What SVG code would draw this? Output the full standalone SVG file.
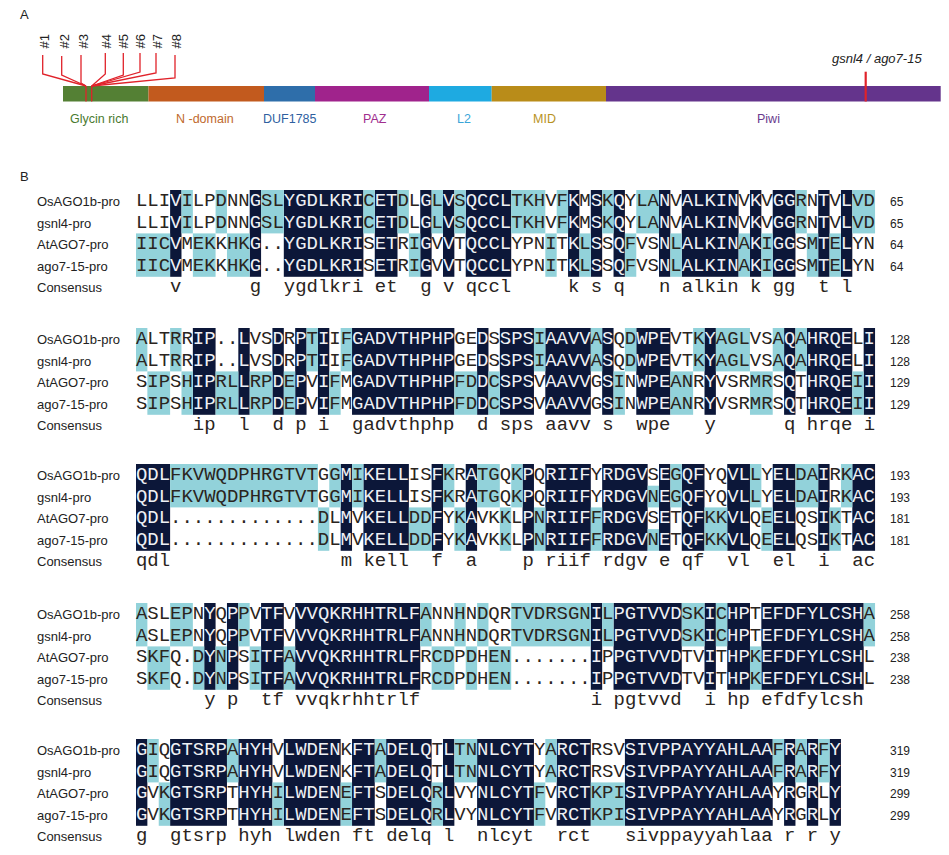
<svg xmlns="http://www.w3.org/2000/svg" width="949" height="855" viewBox="0 0 949 855">
<style>
.t{font-family:"Liberation Sans",Arial,sans-serif;font-size:13px;fill:#222}
.n{font-family:"Liberation Sans",Arial,sans-serif;font-size:12px;fill:#222}
.d{font-family:"Liberation Sans",Arial,sans-serif;font-size:12.5px}
.s{font-family:"Liberation Mono","Courier New",monospace;font-size:18.95px;fill:#2a2420}
.w{fill:#eef0f4}
.k{fill:#0c1739}
.c{fill:#92d2da}
.r{stroke:#e0222a;stroke-width:1.3;fill:none}
</style>
<rect width="949" height="855" fill="#fff"/>
<g id="panelA">
<text class="t" x="20" y="19">A</text>
<g id="domains">
<rect x="63" y="86" width="85.5" height="15.5" fill="#548034"/>
<rect x="148.5" y="86" width="115.5" height="15.5" fill="#c25a1e"/>
<rect x="264" y="86" width="51" height="15.5" fill="#2e6eaa"/>
<rect x="315" y="86" width="114" height="15.5" fill="#a0238c"/>
<rect x="429" y="86" width="62.7" height="15.5" fill="#1eaae1"/>
<rect x="491.7" y="86" width="114.3" height="15.5" fill="#b98c19"/>
<rect x="606" y="86" width="334.7" height="15.5" fill="#64348c"/>
</g>
<g id="domain-labels" class="d">
<text x="70" y="122.5" fill="#4a7a30">Glycin rich</text>
<text x="176" y="122.5" fill="#c0692d">N -domain</text>
<text x="263" y="122.5" fill="#2f5f9f">DUF1785</text>
<text x="363" y="122.5" fill="#a02e8e">PAZ</text>
<text x="457" y="122.5" fill="#3aa5d8">L2</text>
<text x="533" y="122.5" fill="#b8921e">MID</text>
<text x="757" y="122.5" fill="#6a3a8e">Piwi</text>
</g>
<g id="sites" class="t">
<text transform="translate(49.3,48.5) rotate(-90)">#1</text>
<text transform="translate(69.3,48.5) rotate(-90)">#2</text>
<text transform="translate(87.6,48.5) rotate(-90)">#3</text>
<text transform="translate(110.6,48.5) rotate(-90)">#4</text>
<text transform="translate(127.6,48.5) rotate(-90)">#5</text>
<text transform="translate(144.6,48.5) rotate(-90)">#6</text>
<text transform="translate(161.6,48.5) rotate(-90)">#7</text>
<text transform="translate(181.3,48.5) rotate(-90)">#8</text>
</g>
<g id="site-lines" class="r">
<polyline points="42.7,55 42.7,74 86,86"/>
<polyline points="61.7,56 61.7,75 86,86"/>
<polyline points="81,55 81,83 86,86"/>
<polyline points="105.3,53 105.3,74 91.7,86"/>
<polyline points="123.3,53 123.3,75 91.7,86"/>
<polyline points="140,53 140,72 91.7,86"/>
<polyline points="156,53 156,73 91.7,86"/>
<polyline points="175,55 175,78 91.7,86"/>
<line x1="86" y1="86" x2="86" y2="101.5"/>
<line x1="91.7" y1="86" x2="91.7" y2="101.5"/>
</g>
<g id="mutation">
<line x1="865.7" y1="71.7" x2="865.7" y2="101.5" stroke="#e0222a" stroke-width="2.2"/>
<text x="832" y="62.5" class="t" font-style="italic">gsnl4 / ago7-15</text>
</g>
</g>
<text class="t" x="20" y="181">B</text>

<g id="block1">
<g transform="translate(136,190) scale(11.37,1)">
<g class="k"><rect x="3" width="1" height="86.8"/><rect x="10" width="1" height="86.8"/><rect x="13" width="7" height="86.8"/><rect x="21" width="2" height="86.8"/><rect x="25" width="1" height="86.8"/><rect x="27" width="1" height="86.8"/><rect x="29" width="4" height="86.8"/><rect x="38" width="1" height="86.8"/><rect x="40" width="1" height="86.8"/><rect x="42" width="1" height="86.8"/><rect x="46" width="1" height="86.8"/><rect x="48" width="5" height="86.8"/><rect x="54" width="1" height="86.8"/><rect x="56" width="2" height="86.8"/><rect x="60" width="1" height="86.8"/><rect x="62" width="1" height="86.8"/></g>
<g class="c"><rect x="4" width="1" height="43.4"/><rect x="7" width="1" height="43.4"/><rect x="11" width="2" height="43.4"/><rect x="20" width="1" height="43.4"/><rect x="23" width="1" height="43.4"/><rect x="26" width="1" height="43.4"/><rect x="28" width="1" height="43.4"/><rect x="33" width="3" height="43.4"/><rect x="37" width="1" height="43.4"/><rect x="41" width="1" height="43.4"/><rect x="44" width="2" height="43.4"/><rect x="58" width="1" height="43.4"/><rect x="63" width="2" height="43.4"/>
<rect x="0" y="43.4" width="3" height="43.4"/><rect x="5" y="43.4" width="2" height="43.4"/><rect x="8" y="43.4" width="2" height="43.4"/><rect x="24" y="43.4" width="1" height="43.4"/><rect x="36" y="43.4" width="1" height="43.4"/><rect x="39" y="43.4" width="1" height="43.4"/><rect x="43" y="43.4" width="1" height="43.4"/><rect x="47" y="43.4" width="1" height="43.4"/><rect x="53" y="43.4" width="1" height="43.4"/><rect x="55" y="43.4" width="1" height="43.4"/><rect x="59" y="43.4" width="1" height="43.4"/><rect x="61" y="43.4" width="1" height="43.4"/></g>
</g>
<g class="t"><text x="37" y="205.8">OsAGO1b-pro</text><text x="37" y="227.5">gsnl4-pro</text><text x="37" y="249.2">AtAGO7-pro</text><text x="37" y="270.9">ago7-15-pro</text><text x="37" y="291.5">Consensus</text></g>
<g class="n"><text x="890" y="205.8">65</text><text x="890" y="227.5">65</text><text x="890" y="249.2">64</text><text x="890" y="270.9">64</text></g>
<g class="s">
<text x="136" y="205.8">LLI<tspan class="w">V</tspan>ILPDNN<tspan class="w">G</tspan>SL<tspan class="w">YGDLKRI</tspan>C<tspan class="w">ET</tspan>DL<tspan class="w">G</tspan>L<tspan class="w">V</tspan>S<tspan class="w">QCCL</tspan>TKHVF<tspan class="w">K</tspan>M<tspan class="w">S</tspan>K<tspan class="w">Q</tspan>YLA<tspan class="w">N</tspan>V<tspan class="w">ALKIN</tspan>V<tspan class="w">K</tspan>V<tspan class="w">GG</tspan>RN<tspan class="w">T</tspan>V<tspan class="w">L</tspan>VD</text>
<text x="136" y="227.5">LLI<tspan class="w">V</tspan>ILPDNN<tspan class="w">G</tspan>SL<tspan class="w">YGDLKRI</tspan>C<tspan class="w">ET</tspan>DL<tspan class="w">G</tspan>L<tspan class="w">V</tspan>S<tspan class="w">QCCL</tspan>TKHVF<tspan class="w">K</tspan>M<tspan class="w">S</tspan>K<tspan class="w">Q</tspan>YLA<tspan class="w">N</tspan>V<tspan class="w">ALKIN</tspan>V<tspan class="w">K</tspan>V<tspan class="w">GG</tspan>RN<tspan class="w">T</tspan>V<tspan class="w">L</tspan>VD</text>
<text x="136" y="249.2">IIC<tspan class="w">V</tspan>MEKKHK<tspan class="w">G</tspan>..<tspan class="w">YGDLKRI</tspan>S<tspan class="w">ET</tspan>RI<tspan class="w">G</tspan>V<tspan class="w">V</tspan>T<tspan class="w">QCCL</tspan>YPNIT<tspan class="w">K</tspan>L<tspan class="w">S</tspan>S<tspan class="w">Q</tspan>FVS<tspan class="w">N</tspan>L<tspan class="w">ALKIN</tspan>A<tspan class="w">K</tspan>I<tspan class="w">GG</tspan>SM<tspan class="w">T</tspan>E<tspan class="w">L</tspan>YN</text>
<text x="136" y="270.9">IIC<tspan class="w">V</tspan>MEKKHK<tspan class="w">G</tspan>..<tspan class="w">YGDLKRI</tspan>S<tspan class="w">ET</tspan>RI<tspan class="w">G</tspan>V<tspan class="w">V</tspan>T<tspan class="w">QCCL</tspan>YPNIT<tspan class="w">K</tspan>L<tspan class="w">S</tspan>S<tspan class="w">Q</tspan>FVS<tspan class="w">N</tspan>L<tspan class="w">ALKIN</tspan>A<tspan class="w">K</tspan>I<tspan class="w">GG</tspan>SM<tspan class="w">T</tspan>E<tspan class="w">L</tspan>YN</text>
<text y="291.5"><tspan x="170.11">v</tspan><tspan x="249.70">g</tspan><tspan x="283.81">ygdlkri</tspan><tspan x="374.77">et</tspan><tspan x="420.25">g</tspan><tspan x="442.99">v</tspan><tspan x="465.73">qccl</tspan><tspan x="568.06">k</tspan><tspan x="590.80">s</tspan><tspan x="613.54">q</tspan><tspan x="659.02">n</tspan><tspan x="681.76">alkin</tspan><tspan x="749.98">k</tspan><tspan x="772.72">gg</tspan><tspan x="818.20">t</tspan><tspan x="840.94">l</tspan></text>
</g>
</g>

<g id="block2">
<g transform="translate(136,328) scale(11.37,1)">
<g class="k"><rect x="5" width="2" height="86.8"/><rect x="9" width="1" height="86.8"/><rect x="12" width="1" height="86.8"/><rect x="14" width="1" height="86.8"/><rect x="16" width="1" height="86.8"/><rect x="19" width="9" height="86.8"/><rect x="30" width="1" height="86.8"/><rect x="32" width="3" height="86.8"/><rect x="36" width="4" height="86.8"/><rect x="41" width="1" height="86.8"/><rect x="44" width="3" height="86.8"/><rect x="50" width="1" height="86.8"/><rect x="57" width="1" height="86.8"/><rect x="59" width="4" height="86.8"/><rect x="64" width="1" height="86.8"/></g>
<g class="c"><rect x="0" width="1" height="43.4"/><rect x="3" width="1" height="43.4"/><rect x="15" width="1" height="43.4"/><rect x="18" width="1" height="43.4"/><rect x="35" width="1" height="43.4"/><rect x="40" width="1" height="43.4"/><rect x="43" width="1" height="43.4"/><rect x="49" width="1" height="43.4"/><rect x="51" width="3" height="43.4"/><rect x="56" width="1" height="43.4"/><rect x="58" width="1" height="43.4"/>
<rect x="1" y="43.4" width="2" height="43.4"/><rect x="4" y="43.4" width="1" height="43.4"/><rect x="7" y="43.4" width="2" height="43.4"/><rect x="10" y="43.4" width="2" height="43.4"/><rect x="13" y="43.4" width="1" height="43.4"/><rect x="17" y="43.4" width="1" height="43.4"/><rect x="28" y="43.4" width="2" height="43.4"/><rect x="31" y="43.4" width="1" height="43.4"/><rect x="42" y="43.4" width="1" height="43.4"/><rect x="47" y="43.4" width="2" height="43.4"/><rect x="54" y="43.4" width="2" height="43.4"/><rect x="63" y="43.4" width="1" height="43.4"/></g>
</g>
<g class="t"><text x="37" y="343.8">OsAGO1b-pro</text><text x="37" y="365.5">gsnl4-pro</text><text x="37" y="387.2">AtAGO7-pro</text><text x="37" y="408.9">ago7-15-pro</text><text x="37" y="429.5">Consensus</text></g>
<g class="n"><text x="890" y="343.8">128</text><text x="890" y="365.5">128</text><text x="890" y="387.2">129</text><text x="890" y="408.9">129</text></g>
<g class="s">
<text x="136" y="343.8">ALTRR<tspan class="w">IP</tspan>..<tspan class="w">L</tspan>VS<tspan class="w">D</tspan>R<tspan class="w">P</tspan>T<tspan class="w">I</tspan>IF<tspan class="w">GADVTHPHP</tspan>GE<tspan class="w">D</tspan>S<tspan class="w">SPS</tspan>I<tspan class="w">AAVV</tspan>A<tspan class="w">S</tspan>QD<tspan class="w">WPE</tspan>VTK<tspan class="w">Y</tspan>AGLVSA<tspan class="w">Q</tspan>A<tspan class="w">HRQE</tspan>L<tspan class="w">I</tspan></text>
<text x="136" y="365.5">ALTRR<tspan class="w">IP</tspan>..<tspan class="w">L</tspan>VS<tspan class="w">D</tspan>R<tspan class="w">P</tspan>T<tspan class="w">I</tspan>IF<tspan class="w">GADVTHPHP</tspan>GE<tspan class="w">D</tspan>S<tspan class="w">SPS</tspan>I<tspan class="w">AAVV</tspan>A<tspan class="w">S</tspan>QD<tspan class="w">WPE</tspan>VTK<tspan class="w">Y</tspan>AGLVSA<tspan class="w">Q</tspan>A<tspan class="w">HRQE</tspan>L<tspan class="w">I</tspan></text>
<text x="136" y="387.2">SIPSH<tspan class="w">IP</tspan>RL<tspan class="w">L</tspan>RP<tspan class="w">D</tspan>E<tspan class="w">P</tspan>V<tspan class="w">I</tspan>FM<tspan class="w">GADVTHPHP</tspan>FD<tspan class="w">D</tspan>C<tspan class="w">SPS</tspan>V<tspan class="w">AAVV</tspan>G<tspan class="w">S</tspan>IN<tspan class="w">WPE</tspan>ANR<tspan class="w">Y</tspan>VSRMRS<tspan class="w">Q</tspan>T<tspan class="w">HRQE</tspan>I<tspan class="w">I</tspan></text>
<text x="136" y="408.9">SIPSH<tspan class="w">IP</tspan>RL<tspan class="w">L</tspan>RP<tspan class="w">D</tspan>E<tspan class="w">P</tspan>V<tspan class="w">I</tspan>FM<tspan class="w">GADVTHPHP</tspan>FD<tspan class="w">D</tspan>C<tspan class="w">SPS</tspan>V<tspan class="w">AAVV</tspan>G<tspan class="w">S</tspan>IN<tspan class="w">WPE</tspan>ANR<tspan class="w">Y</tspan>VSRMRS<tspan class="w">Q</tspan>T<tspan class="w">HRQE</tspan>I<tspan class="w">I</tspan></text>
<text y="429.5"><tspan x="192.85">ip</tspan><tspan x="238.33">l</tspan><tspan x="272.44">d</tspan><tspan x="295.18">p</tspan><tspan x="317.92">i</tspan><tspan x="352.03">gadvthphp</tspan><tspan x="477.10">d</tspan><tspan x="499.84">sps</tspan><tspan x="545.32">aavv</tspan><tspan x="602.17">s</tspan><tspan x="636.28">wpe</tspan><tspan x="704.50">y</tspan><tspan x="784.09">q</tspan><tspan x="806.83">hrqe</tspan><tspan x="863.68">i</tspan></text>
</g>
</g>

<g id="block3">
<g transform="translate(136,464) scale(11.37,1)">
<g class="k"><rect x="0" width="3" height="86.8"/><rect x="18" width="1" height="86.8"/><rect x="20" width="4" height="86.8"/><rect x="26" width="1" height="86.8"/><rect x="29" width="1" height="86.8"/><rect x="34" width="1" height="86.8"/><rect x="36" width="4" height="86.8"/><rect x="41" width="4" height="86.8"/><rect x="46" width="1" height="86.8"/><rect x="48" width="2" height="86.8"/><rect x="52" width="2" height="86.8"/><rect x="56" width="2" height="86.8"/><rect x="60" width="1" height="86.8"/><rect x="63" width="2" height="86.8"/></g>
<g class="c"><rect x="3" width="13" height="43.4"/><rect x="17" width="1" height="43.4"/><rect x="19" width="1" height="43.4"/><rect x="27" width="1" height="43.4"/><rect x="30" width="2" height="43.4"/><rect x="33" width="1" height="43.4"/><rect x="47" width="1" height="43.4"/><rect x="54" width="1" height="43.4"/><rect x="58" width="2" height="43.4"/><rect x="62" width="1" height="43.4"/>
<rect x="16" y="43.4" width="1" height="43.4"/><rect x="24" y="43.4" width="2" height="43.4"/><rect x="28" y="43.4" width="1" height="43.4"/><rect x="32" y="43.4" width="1" height="43.4"/><rect x="35" y="43.4" width="1" height="43.4"/><rect x="40" y="43.4" width="1" height="43.4"/><rect x="50" y="43.4" width="2" height="43.4"/><rect x="55" y="43.4" width="1" height="43.4"/><rect x="61" y="43.4" width="1" height="43.4"/>
<rect x="45" y="21.7" width="1" height="21.7"/><rect x="45" y="65.1" width="1" height="21.7"/></g>
</g>
<g class="t"><text x="37" y="479.8">OsAGO1b-pro</text><text x="37" y="501.5">gsnl4-pro</text><text x="37" y="523.2">AtAGO7-pro</text><text x="37" y="544.9">ago7-15-pro</text><text x="37" y="565.5">Consensus</text></g>
<g class="n"><text x="890" y="479.8">193</text><text x="890" y="501.5">193</text><text x="890" y="523.2">181</text><text x="890" y="544.9">181</text></g>
<g class="s">
<text x="136" y="479.8"><tspan class="w">QDL</tspan>FKVWQDPHRGTVTGG<tspan class="w">M</tspan>I<tspan class="w">KELL</tspan>IS<tspan class="w">F</tspan>KR<tspan class="w">A</tspan>TGQK<tspan class="w">P</tspan>Q<tspan class="w">RIIF</tspan>Y<tspan class="w">RDGV</tspan>S<tspan class="w">E</tspan>G<tspan class="w">QF</tspan>YQ<tspan class="w">VL</tspan>LY<tspan class="w">EL</tspan>DA<tspan class="w">I</tspan>RK<tspan class="w">AC</tspan></text>
<text x="136" y="501.5"><tspan class="w">QDL</tspan>FKVWQDPHRGTVTGG<tspan class="w">M</tspan>I<tspan class="w">KELL</tspan>IS<tspan class="w">F</tspan>KR<tspan class="w">A</tspan>TGQK<tspan class="w">P</tspan>Q<tspan class="w">RIIF</tspan>Y<tspan class="w">RDGV</tspan>N<tspan class="w">E</tspan>G<tspan class="w">QF</tspan>YQ<tspan class="w">VL</tspan>LY<tspan class="w">EL</tspan>DA<tspan class="w">I</tspan>RK<tspan class="w">AC</tspan></text>
<text x="136" y="523.2"><tspan class="w">QDL</tspan>.............DL<tspan class="w">M</tspan>V<tspan class="w">KELL</tspan>DD<tspan class="w">F</tspan>YK<tspan class="w">A</tspan>VKKL<tspan class="w">P</tspan>N<tspan class="w">RIIF</tspan>F<tspan class="w">RDGV</tspan>S<tspan class="w">E</tspan>T<tspan class="w">QF</tspan>KK<tspan class="w">VL</tspan>QE<tspan class="w">EL</tspan>QS<tspan class="w">I</tspan>KT<tspan class="w">AC</tspan></text>
<text x="136" y="544.9"><tspan class="w">QDL</tspan>.............DL<tspan class="w">M</tspan>V<tspan class="w">KELL</tspan>DD<tspan class="w">F</tspan>YK<tspan class="w">A</tspan>VKKL<tspan class="w">P</tspan>N<tspan class="w">RIIF</tspan>F<tspan class="w">RDGV</tspan>N<tspan class="w">E</tspan>T<tspan class="w">QF</tspan>KK<tspan class="w">VL</tspan>QE<tspan class="w">EL</tspan>QS<tspan class="w">I</tspan>KT<tspan class="w">AC</tspan></text>
<text y="565.5"><tspan x="136">qdl</tspan><tspan x="340.66">m</tspan><tspan x="363.40">kell</tspan><tspan x="431.62">f</tspan><tspan x="465.73">a</tspan><tspan x="522.58">p</tspan><tspan x="545.32">riif</tspan><tspan x="602.17">rdgv</tspan><tspan x="659.02">e</tspan><tspan x="681.76">qf</tspan><tspan x="727.24">vl</tspan><tspan x="772.72">el</tspan><tspan x="818.20">i</tspan><tspan x="852.31">ac</tspan></text>
</g>
</g>

<g id="block4">
<g transform="translate(136,603) scale(11.37,1)">
<g class="k"><rect x="6" width="1" height="86.8"/><rect x="8" width="1" height="86.8"/><rect x="11" width="2" height="86.8"/><rect x="14" width="11" height="86.8"/><rect x="40" width="1" height="86.8"/><rect x="42" width="6" height="86.8"/><rect x="50" width="1" height="86.8"/><rect x="52" width="2" height="86.8"/><rect x="55" width="9" height="86.8"/></g>
<g class="c"><rect x="0" width="1" height="43.4"/><rect x="3" width="2" height="43.4"/><rect x="9" width="1" height="43.4"/><rect x="25" width="1" height="43.4"/><rect x="28" width="1" height="43.4"/><rect x="30" width="1" height="43.4"/><rect x="33" width="7" height="43.4"/><rect x="41" width="1" height="43.4"/><rect x="48" width="2" height="43.4"/><rect x="51" width="1" height="43.4"/><rect x="64" width="1" height="43.4"/>
<rect x="1" y="43.4" width="2" height="43.4"/><rect x="5" y="43.4" width="1" height="43.4"/><rect x="7" y="43.4" width="1" height="43.4"/><rect x="10" y="43.4" width="1" height="43.4"/><rect x="13" y="43.4" width="1" height="43.4"/><rect x="26" y="43.4" width="2" height="43.4"/><rect x="29" y="43.4" width="1" height="43.4"/><rect x="31" y="43.4" width="2" height="43.4"/><rect x="54" y="43.4" width="1" height="43.4"/></g>
</g>
<g class="t"><text x="37" y="618.8">OsAGO1b-pro</text><text x="37" y="640.5">gsnl4-pro</text><text x="37" y="662.2">AtAGO7-pro</text><text x="37" y="683.9">ago7-15-pro</text><text x="37" y="704.5">Consensus</text></g>
<g class="n"><text x="890" y="618.8">258</text><text x="890" y="640.5">258</text><text x="890" y="662.2">238</text><text x="890" y="683.9">238</text></g>
<g class="s">
<text x="136" y="618.8">ASLEPN<tspan class="w">Y</tspan>Q<tspan class="w">P</tspan>PV<tspan class="w">TF</tspan>V<tspan class="w">VVQKRHHTRLF</tspan>ANNHNDQRTVDRSGN<tspan class="w">I</tspan>L<tspan class="w">PGTVVD</tspan>SK<tspan class="w">I</tspan>C<tspan class="w">HP</tspan>T<tspan class="w">EFDFYLCSH</tspan>A</text>
<text x="136" y="640.5">ASLEPN<tspan class="w">Y</tspan>Q<tspan class="w">P</tspan>PV<tspan class="w">TF</tspan>V<tspan class="w">VVQKRHHTRLF</tspan>ANNHNDQRTVDRSGN<tspan class="w">I</tspan>L<tspan class="w">PGTVVD</tspan>SK<tspan class="w">I</tspan>C<tspan class="w">HP</tspan>T<tspan class="w">EFDFYLCSH</tspan>A</text>
<text x="136" y="662.2">SKFQ.D<tspan class="w">Y</tspan>N<tspan class="w">P</tspan>SI<tspan class="w">TF</tspan>A<tspan class="w">VVQKRHHTRLF</tspan>RCDPDHEN.......<tspan class="w">I</tspan>P<tspan class="w">PGTVVD</tspan>TV<tspan class="w">I</tspan>T<tspan class="w">HP</tspan>K<tspan class="w">EFDFYLCSH</tspan>L</text>
<text x="136" y="683.9">SKFQ.D<tspan class="w">Y</tspan>N<tspan class="w">P</tspan>SI<tspan class="w">TF</tspan>A<tspan class="w">VVQKRHHTRLF</tspan>RCDPDHEN.......<tspan class="w">I</tspan>P<tspan class="w">PGTVVD</tspan>TV<tspan class="w">I</tspan>T<tspan class="w">HP</tspan>K<tspan class="w">EFDFYLCSH</tspan>L</text>
<text y="704.5"><tspan x="204.22">y</tspan><tspan x="226.96">p</tspan><tspan x="261.07">tf</tspan><tspan x="295.18">vvqkrhhtrlf</tspan><tspan x="590.80">i</tspan><tspan x="613.54">pgtvvd</tspan><tspan x="704.50">i</tspan><tspan x="727.24">hp</tspan><tspan x="761.35">efdfylcsh</tspan></text>
</g>
</g>

<g id="block5">
<g transform="translate(136,739) scale(11.37,1)">
<g class="k"><rect x="0" width="1" height="86.8"/><rect x="3" width="5" height="86.8"/><rect x="9" width="3" height="86.8"/><rect x="13" width="5" height="86.8"/><rect x="19" width="2" height="86.8"/><rect x="22" width="4" height="86.8"/><rect x="27" width="1" height="86.8"/><rect x="30" width="5" height="86.8"/><rect x="37" width="3" height="86.8"/><rect x="43" width="13" height="86.8"/><rect x="57" width="1" height="86.8"/><rect x="59" width="1" height="86.8"/><rect x="61" width="1" height="86.8"/></g>
<g class="c"><rect x="1" width="1" height="43.4"/><rect x="8" width="1" height="43.4"/><rect x="21" width="1" height="43.4"/><rect x="28" width="2" height="43.4"/><rect x="36" width="1" height="43.4"/><rect x="56" width="1" height="43.4"/><rect x="58" width="1" height="43.4"/><rect x="60" width="1" height="43.4"/>
<rect x="2" y="43.4" width="1" height="43.4"/><rect x="12" y="43.4" width="1" height="43.4"/><rect x="18" y="43.4" width="1" height="43.4"/><rect x="26" y="43.4" width="1" height="43.4"/><rect x="35" y="43.4" width="1" height="43.4"/><rect x="40" y="43.4" width="3" height="43.4"/></g>
</g>
<g class="t"><text x="37" y="754.8">OsAGO1b-pro</text><text x="37" y="776.5">gsnl4-pro</text><text x="37" y="798.2">AtAGO7-pro</text><text x="37" y="819.9">ago7-15-pro</text><text x="37" y="840.5">Consensus</text></g>
<g class="n"><text x="890" y="754.8">319</text><text x="890" y="776.5">319</text><text x="890" y="798.2">299</text><text x="890" y="819.9">299</text></g>
<g class="s">
<text x="136" y="754.8"><tspan class="w">G</tspan>IQ<tspan class="w">GTSRP</tspan>A<tspan class="w">HYH</tspan>V<tspan class="w">LWDEN</tspan>K<tspan class="w">FT</tspan>A<tspan class="w">DELQ</tspan>T<tspan class="w">L</tspan>TN<tspan class="w">NLCYT</tspan>YA<tspan class="w">RCT</tspan>RSV<tspan class="w">SIVPPAYYAHLAA</tspan>F<tspan class="w">R</tspan>A<tspan class="w">R</tspan>F<tspan class="w">Y</tspan></text>
<text x="136" y="776.5"><tspan class="w">G</tspan>IQ<tspan class="w">GTSRP</tspan>A<tspan class="w">HYH</tspan>V<tspan class="w">LWDEN</tspan>K<tspan class="w">FT</tspan>A<tspan class="w">DELQ</tspan>T<tspan class="w">L</tspan>TN<tspan class="w">NLCYT</tspan>YA<tspan class="w">RCT</tspan>RSV<tspan class="w">SIVPPAYYAHLAA</tspan>F<tspan class="w">R</tspan>A<tspan class="w">R</tspan>F<tspan class="w">Y</tspan></text>
<text x="136" y="798.2"><tspan class="w">G</tspan>VK<tspan class="w">GTSRP</tspan>T<tspan class="w">HYH</tspan>I<tspan class="w">LWDEN</tspan>E<tspan class="w">FT</tspan>S<tspan class="w">DELQ</tspan>R<tspan class="w">L</tspan>VY<tspan class="w">NLCYT</tspan>FV<tspan class="w">RCT</tspan>KPI<tspan class="w">SIVPPAYYAHLAA</tspan>Y<tspan class="w">R</tspan>G<tspan class="w">R</tspan>L<tspan class="w">Y</tspan></text>
<text x="136" y="819.9"><tspan class="w">G</tspan>VK<tspan class="w">GTSRP</tspan>T<tspan class="w">HYH</tspan>I<tspan class="w">LWDEN</tspan>E<tspan class="w">FT</tspan>S<tspan class="w">DELQ</tspan>R<tspan class="w">L</tspan>VY<tspan class="w">NLCYT</tspan>FV<tspan class="w">RCT</tspan>KPI<tspan class="w">SIVPPAYYAHLAA</tspan>Y<tspan class="w">R</tspan>G<tspan class="w">R</tspan>L<tspan class="w">Y</tspan></text>
<text y="840.5"><tspan x="136">g</tspan><tspan x="170.11">gtsrp</tspan><tspan x="238.33">hyh</tspan><tspan x="283.81">lwden</tspan><tspan x="352.03">ft</tspan><tspan x="386.14">delq</tspan><tspan x="442.99">l</tspan><tspan x="477.10">nlcyt</tspan><tspan x="556.69">rct</tspan><tspan x="624.91">sivppayyahlaa</tspan><tspan x="784.09">r</tspan><tspan x="806.83">r</tspan><tspan x="829.57">y</tspan></text>
</g>
</g>
</svg>
